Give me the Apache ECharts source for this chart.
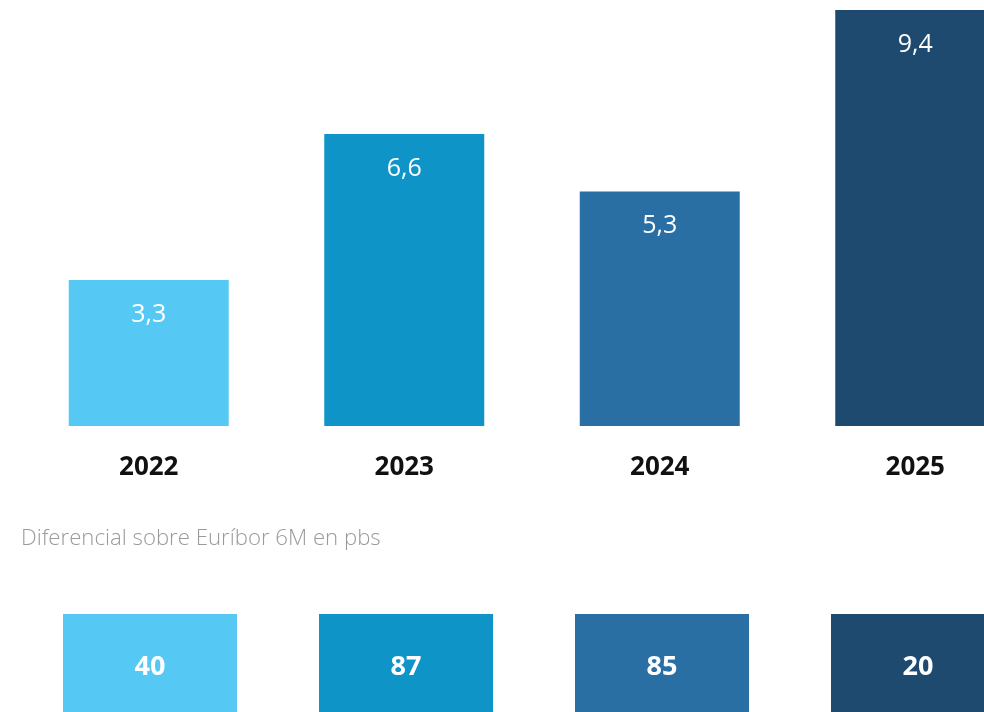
<!DOCTYPE html>
<html>
<head>
<meta charset="utf-8">
<script src="https://cdn.jsdelivr.net/npm/echarts@6/dist/echarts.min.js"></script>
<style>
  html, body { margin: 0; padding: 0; background: #fff; }
  #chart { width: 984px; height: 712px; }
</style>
</head>
<body>
<div id="chart"></div>
<script>
// datos
const years = ["2022", "2023", "2024", "2025"];
const amounts = [3.3, 6.6, 5.3, 9.4];
const spreads = [40, 87, 85, 20];
const colors = ["#55c9f4", "#0f94c8", "#296fa3", "#1d4a6e"];
const subtitle = "Diferencial sobre Euríbor 6M en pbs";

const myChart = echarts.init(document.getElementById("chart"));
const font = "'Open Sans', 'Noto Sans', sans-serif";

myChart.setOption({
  animation: false,
  textStyle: { fontFamily: font },
  title: {
    text: subtitle,
    left: 16,
    top: 523,
    textStyle: { color: "#9a9a9a", fontSize: 22.2, fontWeight: 300, fontFamily: font },
  },
  grid: [
    { left: 21, width: 1022, top: 10, height: 416, outerBoundsMode: "none", containLabel: false },
    { left: 22, width: 1024, top: 614, height: 104, outerBoundsMode: "none", containLabel: false },
  ],
  xAxis: [
    {
      gridIndex: 0,
      type: "category",
      data: years,
      axisLine: { show: false },
      axisTick: { show: false },
      axisLabel: { color: "#111", fontSize: 26, fontWeight: "bold", margin: 29, fontFamily: font },
    },
    {
      gridIndex: 1,
      type: "category",
      data: years,
      show: false,
    },
  ],
  yAxis: [
    { gridIndex: 0, type: "value", min: 0, max: 9.4, show: false, splitLine: { show: false } },
    { gridIndex: 1, type: "value", min: 0, max: 1, show: false, splitLine: { show: false } },
  ],
  series: [
    {
      type: "bar",
      xAxisIndex: 0,
      yAxisIndex: 0,
      barWidth: 160,
      data: amounts.map((v, i) => ({ value: v, itemStyle: { color: colors[i] } })),
      label: {
        show: true,
        position: "insideTop",
        distance: 22,
        color: "#fff",
        fontSize: 25,
        fontFamily: font,
        formatter: (p) => String(p.value).replace(".", ","),
      },
    },
    {
      type: "bar",
      xAxisIndex: 1,
      yAxisIndex: 1,
      barWidth: 174,
      data: spreads.map((v, i) => ({ value: 1, itemStyle: { color: colors[i] } })),
      label: {
        show: true,
        position: "inside",
        offset: [0, 1],
        color: "#fff",
        fontSize: 27,
        fontWeight: "bold",
        fontFamily: font,
        formatter: (p) => String(spreads[p.dataIndex]),
      },
    },
  ],
});
</script>
</body>
</html>
